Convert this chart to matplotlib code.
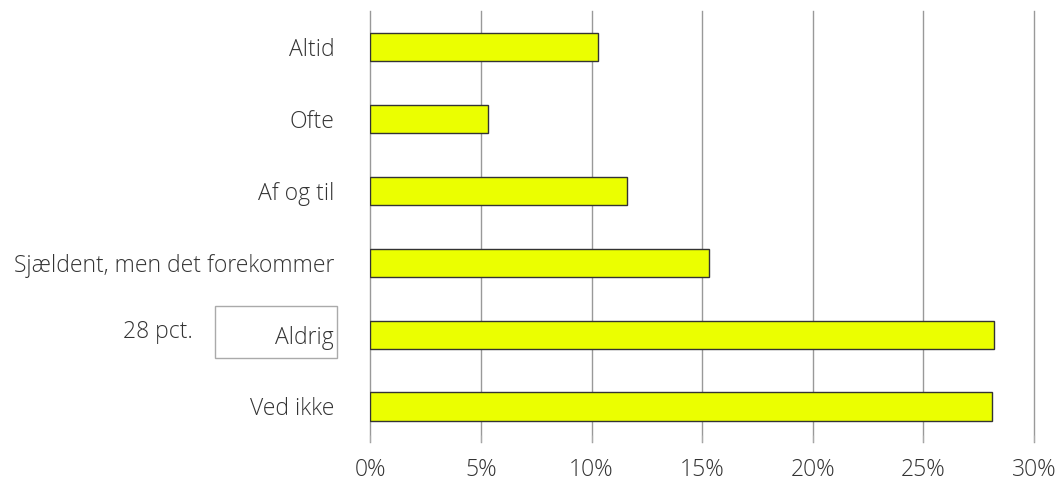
import numpy as np
import matplotlib.pyplot as plt
from matplotlib.patches import Rectangle

categories = ["Altid", "Ofte", "Af og til", "Sjældent, men det forekommer", "Aldrig", "Ved ikke"]
values = [10.3, 5.3, 11.6, 15.3, 28.2, 28.1]
xticks = [0, 5, 10, 15, 20, 25, 30]

plt.rcParams['font.family'] = ['Open Sans', 'DejaVu Sans']
plt.rcParams['font.weight'] = 'light'
FS = 16.5

fig = plt.figure(figsize=(10.55, 4.83), dpi=100)
ax = fig.add_axes([0.351, 0.084, 0.629, 0.893])

y = np.arange(len(categories))
ax.barh(y, values, height=0.39, color="#EBFF00", edgecolor="#333333", linewidth=1, zorder=3)

ax.set_ylim(len(categories) - 0.5, -0.5)
ax.set_xlim(0, 30)
ax.set_xticks(xticks)
ax.set_xticklabels([f"{t}%" for t in xticks], fontsize=FS, color="#333333")
ax.set_yticks(y)
ax.set_yticklabels(categories, fontsize=FS, color="#333333")
ax.tick_params(axis='y', length=0, pad=26)
ax.tick_params(axis='x', length=5, color="#aaaaaa", pad=11, direction='in')

ax.grid(axis='x', color="#999999", linewidth=1, zorder=0)
for gl in ax.get_xgridlines():
    gl.set_clip_on(False)
for s in ax.spines.values():
    s.set_visible(False)

# box around the "Aldrig" label with the annotation beside it
fig.add_artist(Rectangle((215 / 1055, 1 - 358 / 483), 122 / 1055, 52 / 483,
                         transform=fig.transFigure, fill=False, edgecolor="#aaaaaa", linewidth=1))
fig.text(193 / 1055, 1 - 332 / 483, "28 pct.", ha='right', va='center', fontsize=FS, color="#333333")

fig.savefig("out.png", dpi=100)
